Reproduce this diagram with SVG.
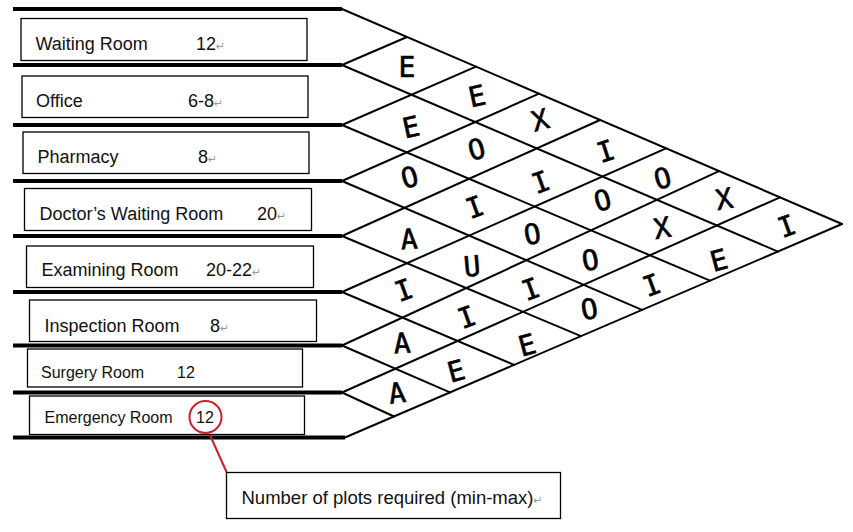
<svg xmlns="http://www.w3.org/2000/svg" width="853" height="532" viewBox="0 0 853 532">
<style>
.bg{fill:#ffffff}
.hl{stroke:#000;stroke-width:4;fill:none}
.gl{stroke:#000;stroke-width:2;fill:none;stroke-linecap:round}
.box{fill:#fff;stroke:#000;stroke-width:1.3}
.t{font-family:"Liberation Sans",Arial,sans-serif;font-size:18px;fill:#111}
.ts{font-family:"Liberation Sans",Arial,sans-serif;font-size:16px;fill:#111}
.pm{font-family:"DejaVu Sans",sans-serif;font-size:11px;fill:#999}
.L{font-family:"DejaVu Sans Mono",monospace;font-weight:normal;font-size:28px;fill:#000;stroke:#000;stroke-width:0.6;text-anchor:middle}
.red{stroke:#cc1f2a;stroke-width:2;fill:none}
</style>
<rect class="bg" x="0" y="0" width="853" height="532"/>

<g id="connectors">
  <g id="row-lines">
    <line class="hl" x1="13" y1="9" x2="342" y2="9"/>
    <line class="hl" x1="13" y1="65" x2="342" y2="65"/>
    <line class="hl" x1="13" y1="125" x2="342" y2="125"/>
    <line class="hl" x1="13" y1="181" x2="342" y2="181"/>
    <line class="hl" x1="13" y1="236" x2="342" y2="236"/>
    <line class="hl" x1="13" y1="292" x2="342" y2="292"/>
    <line class="hl" x1="13" y1="345.5" x2="342" y2="345.5"/>
    <line class="hl" x1="13" y1="392.5" x2="342" y2="392.5"/>
    <line class="hl" x1="13" y1="437.5" x2="345" y2="437.5"/>
  </g>
  <g id="matrix-grid">
    <line class="gl" x1="342" y1="9" x2="842" y2="224"/>
    <line class="gl" x1="345" y1="437.5" x2="842" y2="224"/>
    <line class="gl" x1="342" y1="65" x2="778" y2="251.6"/>
    <line class="gl" x1="342" y1="125" x2="710" y2="280.7"/>
    <line class="gl" x1="342" y1="181" x2="642" y2="309.9"/>
    <line class="gl" x1="342" y1="236" x2="581" y2="336.1"/>
    <line class="gl" x1="342" y1="292" x2="514" y2="364.9"/>
    <line class="gl" x1="342" y1="345.5" x2="450" y2="392.4"/>
    <line class="gl" x1="342" y1="392.5" x2="394" y2="416.5"/>
    <line class="gl" x1="342" y1="65" x2="407" y2="37"/>
    <line class="gl" x1="342" y1="125" x2="476" y2="66.6"/>
    <line class="gl" x1="342" y1="181" x2="539" y2="93.7"/>
    <line class="gl" x1="342" y1="236" x2="600" y2="120"/>
    <line class="gl" x1="342" y1="292" x2="666" y2="148.3"/>
    <line class="gl" x1="342" y1="345.5" x2="719" y2="171.1"/>
    <line class="gl" x1="342" y1="392.5" x2="780" y2="197.3"/>
  </g>
  <g id="callout-line">
    <line class="red" x1="209" y1="433" x2="227" y2="473"/>
  </g>
</g>

<g id="room-waiting">
  <rect class="box" x="21" y="18.5" width="286" height="42"/>
  <text class="t" x="35.5" y="50">Waiting Room</text>
  <text class="t" x="196" y="50">12<tspan class="pm">↵</tspan></text>
</g>
<g id="room-office">
  <rect class="box" x="22" y="76" width="286" height="41.5"/>
  <text class="t" x="36" y="106.5">Office</text>
  <text class="t" x="188" y="106.5">6-8<tspan class="pm">↵</tspan></text>
</g>
<g id="room-pharmacy">
  <rect class="box" x="23" y="132" width="286" height="41.5"/>
  <text class="t" x="37.5" y="162.5">Pharmacy</text>
  <text class="t" x="198" y="162.5">8<tspan class="pm">↵</tspan></text>
</g>
<g id="room-doctors-waiting">
  <rect class="box" x="24.5" y="188.5" width="287" height="42"/>
  <text class="t" x="39.5" y="220">Doctor’s Waiting Room</text>
  <text class="t" x="257" y="220">20<tspan class="pm">↵</tspan></text>
</g>
<g id="room-examining">
  <rect class="box" x="26.5" y="246" width="287" height="41.5"/>
  <text class="t" x="41.5" y="276">Examining Room</text>
  <text class="t" x="206" y="276">20-22<tspan class="pm">↵</tspan></text>
</g>
<g id="room-inspection">
  <rect class="box" x="29.5" y="300" width="287" height="41.5"/>
  <text class="t" x="44.5" y="331.5">Inspection Room</text>
  <text class="t" x="210" y="331.5">8<tspan class="pm">↵</tspan></text>
</g>
<g id="room-surgery">
  <rect class="box" x="27.5" y="349" width="275" height="38"/>
  <text class="ts" x="41" y="377.5">Surgery Room</text>
  <text class="ts" x="177" y="377.5">12</text>
</g>
<g id="room-emergency">
  <rect class="box" x="29.5" y="396" width="275" height="38.5"/>
  <text class="ts" x="44.5" y="423">Emergency Room</text>
  <text class="ts" x="196" y="423">12</text>
  <circle class="red" cx="205.5" cy="417" r="16"/>
</g>

<g id="note-plots">
  <rect class="box" x="226.5" y="472.5" width="334" height="46"/>
  <text class="t" x="241.5" y="503.5" style="font-size:18.5px">Number of plots required (min-max)<tspan class="pm">↵</tspan></text>
</g>

<g id="relations">
  <text class="L" x="407" y="76.5">E</text>
  <text class="L" x="477" y="106" transform="rotate(-12 477 96)">E</text>
  <text class="L" x="540" y="130" transform="rotate(-15 540 120)">X</text>
  <text class="L" x="606" y="161" transform="rotate(-18 606 152)" font-size="26">I</text>
  <text class="L" x="663" y="188" transform="rotate(-15 663 180)" font-size="24">O</text>
  <text class="L" x="724" y="209" transform="rotate(-10 724 199)">X</text>
  <text class="L" x="787" y="236" transform="rotate(-20 787 227)" font-size="26">I</text>

  <text class="L" x="411" y="137" transform="rotate(-12 411 127)">E</text>
  <text class="L" x="477" y="159" transform="rotate(-15 477 151)" font-size="24">O</text>
  <text class="L" x="541" y="192" transform="rotate(-20 541 183)" font-size="26">I</text>
  <text class="L" x="603" y="210" transform="rotate(-15 603 202)" font-size="24">O</text>
  <text class="L" x="662" y="238" transform="rotate(-10 662 228)">X</text>
  <text class="L" x="719" y="270" transform="rotate(-15 719 261)" font-size="26">E</text>

  <text class="L" x="410" y="187" transform="rotate(-15 410 179)" font-size="24">O</text>
  <text class="L" x="475" y="217" transform="rotate(-20 475 208)" font-size="26">I</text>
  <text class="L" x="533" y="244" transform="rotate(-10 533 238)" font-size="18">O</text>
  <text class="L" x="591" y="270" transform="rotate(-10 591 264)" font-size="18">O</text>
  <text class="L" x="652" y="295" transform="rotate(-20 652 286)" font-size="26">I</text>

  <text class="L" x="409" y="249" transform="rotate(-4 409 238)" font-size="30">A</text>
  <text class="L" x="472" y="276" transform="rotate(-5 472 266)">U</text>
  <text class="L" x="531" y="299" transform="rotate(-20 531 290)" font-size="26">I</text>
  <text class="L" x="590" y="319" transform="rotate(-10 590 313)" font-size="18">O</text>

  <text class="L" x="404" y="300" transform="rotate(-20 404 291)" font-size="26">I</text>
  <text class="L" x="467" y="327" transform="rotate(-20 467 318)" font-size="26">I</text>
  <text class="L" x="527" y="355" transform="rotate(-15 527 345)">E</text>

  <text class="L" x="402" y="353" transform="rotate(-4 402 342)" font-size="30">A</text>
  <text class="L" x="456" y="381" transform="rotate(-15 456 371)">E</text>

  <text class="L" x="397" y="403" transform="rotate(-8 397 394)" font-size="26">A</text>
</g>
</svg>
